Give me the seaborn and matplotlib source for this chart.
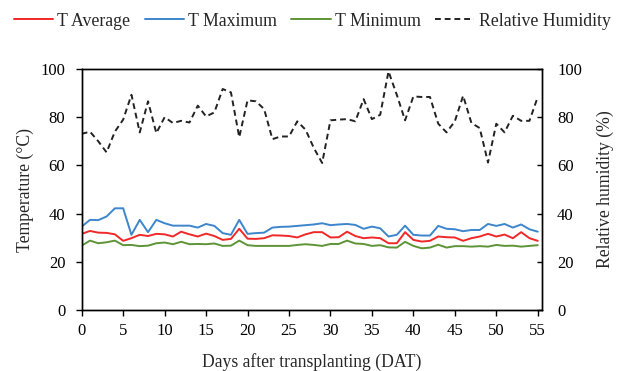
import pandas as pd
import seaborn as sns
import matplotlib.pyplot as plt

days = list(range(56))

t_avg = [31.6, 32.8, 32.1, 32.0, 31.4, 28.7, 29.8, 31.2, 30.7, 31.6,
         31.4, 30.5, 32.5, 31.4, 30.5, 31.7, 30.7, 29.1, 29.5, 33.7,
         29.6, 29.5, 29.8, 31.0, 30.9, 30.7, 30.1, 31.4, 32.3, 32.3,
         30.1, 30.2, 32.5, 30.7, 29.8, 30.1, 29.8, 27.7, 27.7, 32.3,
         29.1, 28.4, 28.7, 30.5, 30.2, 30.1, 28.7, 29.8, 30.5, 31.6,
         30.5, 31.3, 29.8, 32.3, 29.8, 28.7]
t_max = [34.6, 37.4, 37.3, 38.8, 42.2, 42.2, 31.2, 37.4, 32.3, 37.4,
         36.0, 35.0, 35.0, 35.0, 34.2, 35.7, 34.9, 31.9, 31.2, 37.4,
         31.6, 31.9, 32.1, 34.2, 34.5, 34.6, 34.9, 35.2, 35.5, 36.0,
         35.2, 35.5, 35.7, 35.3, 33.7, 34.6, 33.9, 30.5, 31.2, 35.0,
         31.2, 30.9, 30.9, 34.9, 33.7, 33.5, 32.7, 33.2, 33.2, 35.7,
         34.9, 35.7, 34.2, 35.5, 33.5, 32.5]
t_min = [26.7, 28.8, 27.7, 28.1, 28.8, 26.9, 27.0, 26.5, 26.7, 27.7,
         28.0, 27.3, 28.3, 27.3, 27.4, 27.3, 27.6, 26.6, 26.7, 28.8,
         26.9, 26.6, 26.6, 26.6, 26.6, 26.6, 27.0, 27.3, 27.0, 26.6,
         27.4, 27.4, 28.8, 27.6, 27.4, 26.6, 26.9, 26.0, 25.9, 28.3,
         26.6, 25.6, 25.9, 27.1, 25.9, 26.5, 26.5, 26.3, 26.5, 26.3,
         27.0, 26.6, 26.7, 26.3, 26.6, 26.9]
rh = [73.1, 74.0, 70.0, 65.4, 74.0, 79.0, 89.3, 73.7, 86.6, 73.4,
      80.0, 77.6, 78.5, 77.8, 84.8, 80.3, 82.0, 91.7, 90.3, 71.7,
      87.0, 86.6, 83.4, 70.9, 72.0, 72.0, 78.3, 74.8, 67.2, 61.0,
      78.7, 79.0, 79.2, 78.3, 87.5, 79.2, 81.0, 99.0, 89.3, 78.7,
      88.6, 88.4, 88.4, 77.3, 73.7, 78.3, 88.9, 77.6, 75.5, 61.2,
      77.3, 73.7, 80.6, 78.5, 78.5, 88.4]

df = pd.DataFrame(dict(day=days, avg=t_avg, tmax=t_max, tmin=t_min, rh=rh))

sns.set_style("ticks")
plt.rcParams['font.family'] = ['Liberation Serif', 'DejaVu Serif']

fig = plt.figure(figsize=(6.27, 3.71), dpi=100)
ax = fig.add_axes([0.1303, 0.1644, 0.7337, 0.6496])
ax2 = ax.twinx()

sns.lineplot(df, x="day", y="avg", ax=ax, color="#F02828", lw=1.4, label="T Average", legend=False)
sns.lineplot(df, x="day", y="tmax", ax=ax, color="#3D85CC", lw=1.4, label="T Maximum", legend=False)
sns.lineplot(df, x="day", y="tmin", ax=ax, color="#5E9437", lw=1.4, label="T Minimum", legend=False)
sns.lineplot(df, x="day", y="rh", ax=ax2, color="#222222", lw=1.4, linestyle=(0, (3, 2)),
             label="Relative Humidity", legend=False)

for a in (ax, ax2):
    a.set_ylim(0, 100)
    a.set_yticks(range(0, 101, 20))
    a.set_xlim(0, 55.48)
    for s in a.spines.values():
        s.set_color("black")
        s.set_linewidth(1)
ax.set_xticks(range(0, 56, 5))
ax.tick_params(axis="x", colors="black", labelsize=12, length=4, width=1, pad=5.5)
ax.tick_params(axis="y", colors="black", labelsize=12, length=4.3, width=1, pad=7.5)
ax2.tick_params(axis="y", colors="black", labelsize=12, length=3.5, width=1, direction="in", pad=11)

ax.set_xlabel("Days after transplanting (DAT)", fontsize=12.7, va="center")
ax.xaxis.set_label_coords(0.5, -0.215)
ax.set_ylabel("Temperature (°C)", fontsize=12.7, va="center")
ax.yaxis.set_label_coords(-0.123, 0.5)
ax2.set_ylabel("Relative humidity (%)", fontsize=12.7, va="center")
ax2.yaxis.set_label_coords(1.138, 0.5)

h1, l1 = ax.get_legend_handles_labels()
h2, l2 = ax2.get_legend_handles_labels()
fig.legend(h1 + h2, l1 + l2, loc="center", bbox_to_anchor=(0.498, 0.943), ncol=4,
           frameon=False, fontsize=12.8, handlelength=2.2, handletextpad=0.25,
           columnspacing=0.8, borderpad=0)

plt.savefig("out.png", dpi=100)
